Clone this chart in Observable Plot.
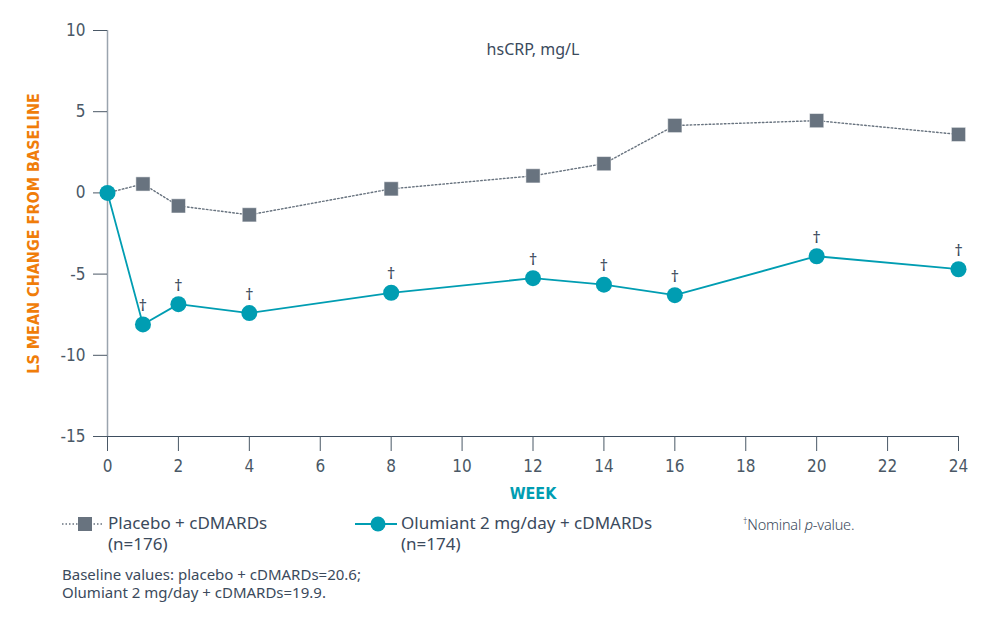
<!DOCTYPE html>
<html>
<head>
<meta charset="utf-8">
<script src="https://cdn.jsdelivr.net/npm/d3@7"></script>
<script src="https://cdn.jsdelivr.net/npm/@observablehq/plot@0.6"></script>
<style>
  body { margin: 0; background: #fff; font-family: "Noto Sans", "Open Sans", sans-serif; color: #3b4a5c; }
  #wrap { position: relative; width: 1000px; height: 626px; }
  #chart { position: absolute; left: 0; top: 0; }
  .leg { position: absolute; font-size: 17px; line-height: 21px; color: #3b4a5c; }
  .leg svg { position: absolute; }
  .note { position: absolute; font-size: 15px; line-height: 18px; color: #3b4a5c; }
  .foot { position: absolute; font-size: 14.5px; color: #3b4a5c; font-weight: 300; letter-spacing: -0.2px; }
  .cond text { font-family: "DejaVu Sans", sans-serif; font-stretch: condensed; }
</style>
</head>
<body>
<div id="wrap">
  <div id="chart"></div>
  <div class="leg" style="left:62px; top:512px;">
    <svg width="42" height="20" style="left:0; top:2px;">
      <line x1="0" y1="10" x2="40" y2="10" stroke="#68737f" stroke-width="1.5" stroke-dasharray="1.5,2"></line>
      <rect x="16" y="3" width="14" height="14" fill="#68737f"></rect>
    </svg>
    <div style="margin-left:46px;">Placebo + cDMARDs<br>(n=176)</div>
  </div>
  <div class="leg" style="left:355px; top:512px;">
    <svg width="44" height="20" style="left:0; top:2px;">
      <line x1="0" y1="10" x2="42" y2="10" stroke="#009db2" stroke-width="2"></line>
      <circle cx="23" cy="10" r="7.5" fill="#009db2"></circle>
    </svg>
    <div style="margin-left:46px;">Olumiant 2 mg/day + cDMARDs<br>(n=174)</div>
  </div>
  <div class="foot" style="left:743px; top:514px;"><sup style="font-size:9px;">†</sup>Nominal <i>p</i>-value.</div>
  <div class="note" style="left:62px; top:565px;">Baseline values: placebo + cDMARDs=20.6;<br>Olumiant 2 mg/day + cDMARDs=19.9.</div>
</div>
<script>
// Study weeks at which hsCRP was measured
const weeks = [0, 1, 2, 4, 8, 12, 14, 16, 20, 24];
// LS mean change from baseline in hsCRP (mg/L)
const placebo = [0, 0.55, -0.8, -1.35, 0.25, 1.05, 1.8, 4.15, 4.45, 3.6];
const olumiant = [0, -8.1, -6.85, -7.4, -6.15, -5.25, -5.65, -6.3, -3.9, -4.7];
const xTicks = [0, 2, 4, 6, 8, 10, 12, 14, 16, 18, 20, 22, 24];
const yTicks = [-15, -10, -5, 0, 5, 10];

const placeboRows = weeks.map((w, i) => ({week: w, value: placebo[i]}));
const olumiantRows = weeks.map((w, i) => ({week: w, value: olumiant[i]}));

const grey = "#68737f";
const teal = "#009db2";
const ink = "#3b4a5c";

const chart = Plot.plot({
  width: 1000,
  height: 510,
  marginLeft: 107,
  marginRight: 42,
  marginTop: 30,
  marginBottom: 74,
  style: {fontFamily: "'Noto Sans', sans-serif", color: ink, background: "white"},
  x: {domain: [0, 24]},
  y: {domain: [-15, 10]},
  marks: [
    // vertical axis line
    Plot.ruleX([0], {y1: 10, y2: -15, stroke: "#9aa4ae", strokeWidth: 1.5}),
    Plot.axisY({ticks: yTicks, tickFormat: d => String(d), tickSize: 14, tickPadding: 8, stroke: "#4a5866",
      strokeWidth: 1, label: null, fontSize: 17, fill: "#4a5866", className: "cond"}),
    Plot.ruleY([-15], {x1: 0, x2: 24, stroke: "#3d4d5f", strokeWidth: 1.2}),
    Plot.axisX({ticks: xTicks, tickFormat: d => String(d), tickSize: 15, tickPadding: 8, stroke: "#4a5866",
      strokeWidth: 1, label: null, fontSize: 17, fill: "#4a5866", className: "cond"}),
    // lines
    Plot.line(placeboRows, {x: "week", y: "value", stroke: grey, strokeWidth: 1.4, strokeDasharray: "1.6,2.2"}),
    Plot.line(olumiantRows, {x: "week", y: "value", stroke: teal, strokeWidth: 1.8}),
    // markers (the shared baseline point shows the circle only)
    Plot.dot(placeboRows.filter(d => d.week > 0), {x: "week", y: "value", symbol: "square", r: 8,
      fill: grey, stroke: "white", strokeWidth: 0.5}),
    Plot.dot(olumiantRows, {x: "week", y: "value", r: 8, fill: teal}),
    // significance daggers
    Plot.text(olumiantRows.filter(d => d.week > 0), {x: "week", y: "value", text: () => "†", dy: -19,
      fontSize: 17, fill: ink}),
    // panel title and axis titles
    Plot.text(["hsCRP, mg/L"], {frameAnchor: "top", dy: 13, fontSize: 16, fill: ink}),
    Plot.text(["LS MEAN CHANGE FROM BASELINE"], {frameAnchor: "left", textAnchor: "middle", dx: -74, rotate: -90,
      fontSize: 16, fontWeight: "bold", fill: "#f07d0a", className: "cond"}),
    Plot.text(["WEEK"], {frameAnchor: "bottom", dy: 62, fontSize: 16, fontWeight: "bold", fill: teal,
      className: "cond"})
  ]
});
document.getElementById("chart").appendChild(chart);
</script>
</body>
</html>
